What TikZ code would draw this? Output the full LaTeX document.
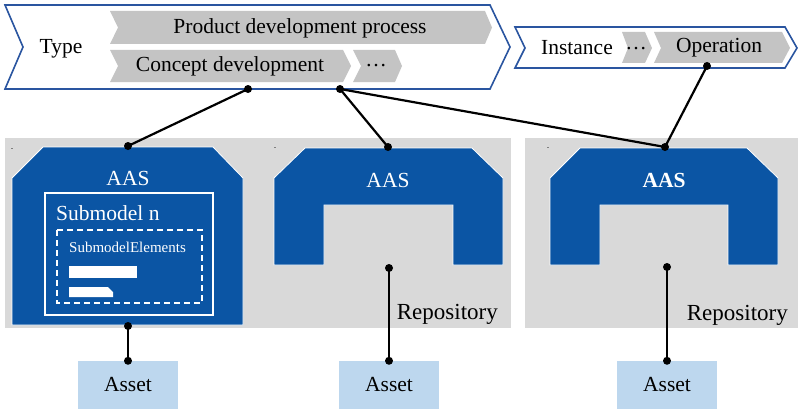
\documentclass[tikz,border=0pt]{standalone}
\usepackage{fontspec}
\setmainfont{Liberation Serif}
\usepackage{tikz}
\usetikzlibrary{positioning,calc}
\definecolor{cLine}{HTML}{2A55A0}
\definecolor{cGrey}{HTML}{C4C4C4}
\definecolor{cPanel}{HTML}{D9D9D9}
\definecolor{cBlue}{HTML}{0B55A4}
\definecolor{cAsset}{HTML}{BDD7EE}
\tikzset{
  frame/.style={draw=cLine,line width=1.6pt,fill=white,line join=miter},
  procarrow/.style={fill=cGrey},
  panel/.style={fill=cPanel},
  aasbody/.style={fill=cBlue,draw=white,line width=0.8pt},
  lbl/.style={inner sep=0pt,font=\fontsize{21.5}{24}\selectfont},
  wlbl/.style={lbl,text=white},
  assetbox/.style={fill=cAsset,minimum width=100pt,minimum height=48pt,
              inner sep=0pt,font=\fontsize{21.5}{24}\selectfont},
  dot/.style={circle,fill=black,inner sep=0pt,minimum size=8pt},
  link/.style={line width=2.2pt,black},
}
\begin{document}
\begin{tikzpicture}[x=1pt,y=-1pt]
  \useasboundingbox (0,0) rectangle (800,412);
  % type / instance frames
  \draw[frame] (5,5)--(490,5)--(510,47)--(490,89)--(5,89)--(23,47)--cycle;
  \draw[frame] (515,27)--(785,27)--(797,48)--(785,68)--(515,68)--(525,48)--cycle;
  \fill[procarrow] (110,11)--(485,11)--(492,27.5)--(485,44)--(110,44)--(118,27.5)--cycle;
  \fill[procarrow] (110,50)--(343,50)--(351,66)--(343,82)--(110,82)--(118,66)--cycle;
  \fill[procarrow] (353,50)--(395,50)--(402,66)--(395,82)--(353,82)--(361,66)--cycle;
  \fill[procarrow] (622,32)--(645,32)--(652,48)--(645,63)--(622,63)--(628,48)--cycle;
  \fill[procarrow] (654,32)--(782,32)--(790,48)--(782,63)--(654,63)--(661,48)--cycle;
  \node[lbl](type) at (61,49){Type};
  \node[lbl](pdp) at (300,28){Product development process};
  \node[lbl](concept) at (230,66){Concept development};
  \node[lbl](more) at (376,66){\dots};
  \node[lbl](inst) at (577,48){Instance};
  \node[lbl](imore) at (636,49){\dots};
  \node[lbl](oper) at (719,48){Operation};
  % repositories
  \fill[panel] (5,138) rectangle (511,328);
  \fill[panel] (525,138) rectangle (798,328);
  \draw[gray,line width=0.6pt] (11,148)--(13,148) (274,147)--(276,147) (547,147)--(549,147);
  \draw[aasbody] (12,325)--(12,178)--(43,147)--(213,147)--(243,178)--(243,325)--cycle;
  \draw[aasbody] (274,265)--(274,178)--(305,148)--(472,148)--(503,178)--(503,265)
    --(453,265)--(453,205)--(324,205)--(324,265)--cycle;
  \draw[aasbody] (550,265)--(550,178)--(580,148)--(747,148)--(778,178)--(778,265)
    --(728,265)--(728,205)--(600,205)--(600,265)--cycle;
  \node[wlbl](aas1) at (128,178){AAS};
  \node[wlbl](aas2) at (388,180){AAS};
  \node[wlbl,font=\fontsize{21.5}{24}\selectfont\bfseries](aas3) at (664,180){AAS};
  % submodel
  \draw[white,line width=1.8pt] (45,193) rectangle (213,315);
  \node[wlbl,anchor=west](sub) at (56,213){Submodel n};
  \draw[white,line width=1.6pt,dash pattern=on 6pt off 4pt] (57,230) rectangle (202,303);
  \node[wlbl,anchor=west,font=\fontsize{15}{17}\selectfont](subel) at (69,247){SubmodelElements};
  \fill[white] (69,266) rectangle (137,278);
  \fill[white] (69,287)--(108,287)--(113,292)--(113,297)--(69,297)--cycle;
  \node[lbl,anchor=east,font=\fontsize{23}{26}\selectfont](repo1) at (498,314){Repository};
  \node[lbl,anchor=east,font=\fontsize{23}{26}\selectfont](repo2) at (788,315){Repository};
  % assets
  \node[assetbox](asset1) at (128,385){Asset};
  \node[assetbox](asset2) at (389,385){Asset};
  \node[assetbox](asset3) at (667,385){Asset};
  % connection points
  \node[dot](c1) at (248,89){};
  \node[dot](c2) at (340,89){};
  \node[dot](c3) at (707,66){};
  \node[dot](a1t) at (128,146){};
  \node[dot](a1b) at (128,326){};
  \node[dot](a2t) at (388,147){};
  \node[dot](a2b) at (389,268){};
  \node[dot](a3t) at (665,147){};
  \node[dot](a3b) at (667,267){};
  \node[dot](s1) at (asset1.north){};
  \node[dot](s2) at (asset2.north){};
  \node[dot](s3) at (asset3.north){};
  \draw[link] (c1.center)--(a1t.center);
  \draw[link] (c2.center)--(a2t.center);
  \draw[link] (c2.center)--(a3t.center);
  \draw[link] (c3.center)--(a3t.center);
  \draw[link] (a1b.center)--(s1.center);
  \draw[link] (a2b.center)--(s2.center);
  \draw[link] (a3b.center)--(s3.center);
\end{tikzpicture}
\end{document}
